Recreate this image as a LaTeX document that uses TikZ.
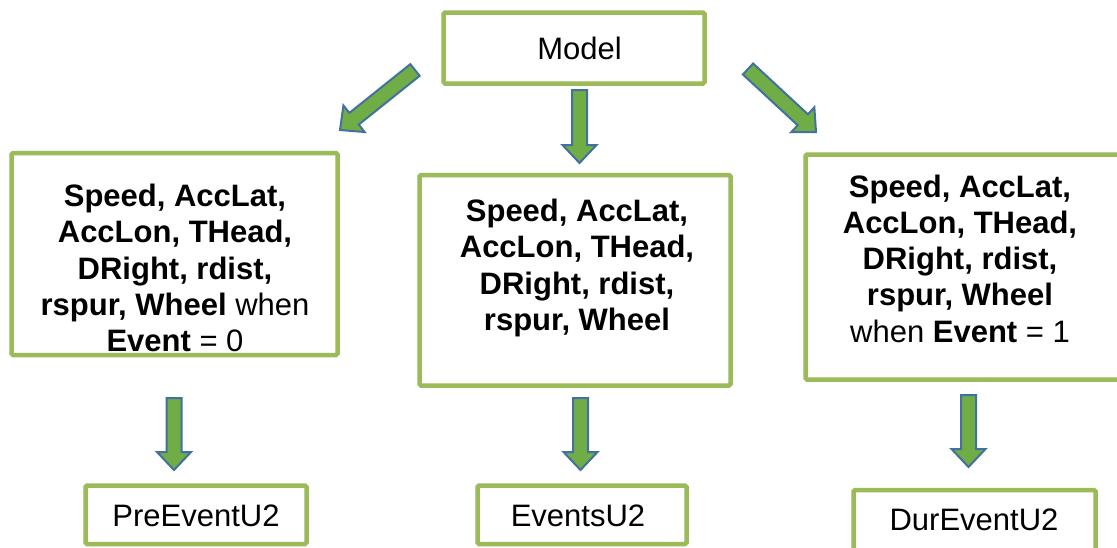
\documentclass[tikz,border=0pt]{standalone}
\usepackage{fontspec}
\setmainfont{Liberation Sans}
\usetikzlibrary{calc}
\definecolor{boxgreen}{RGB}{155,187,89}
\definecolor{arrfill}{RGB}{112,173,71}
\definecolor{arrline}{RGB}{65,113,156}
\tikzset{
  box/.style={draw=boxgreen, line width=4.5pt, rounded corners=1.5pt, fill=white, inner sep=0pt},
  txt/.style={align=center, inner sep=0pt, font=\fontsize{31}{36.2}\selectfont},
  barrow/.style={fill=arrfill, draw=arrline, line width=2pt, line join=miter},
}
\newcommand\blockarrow[3]{%
  \coordinate (#3) at ($(#2)!18pt!(#1)$);
  \draw[barrow] ($(#1)!7.5pt!90:(#2)$) -- ($(#3)!7.5pt!90:(#2)$) -- ($(#3)!17pt!90:(#2)$)
    -- (#2) -- ($(#3)!17pt!-90:(#2)$) -- ($(#3)!7.5pt!-90:(#2)$) -- ($(#1)!7.5pt!-90:(#2)$) -- cycle;
}
\begin{document}
\begin{tikzpicture}[x=1pt,y=-1pt]
\clip (0,0) rectangle (1117,547);
\fill[white] (0,0) rectangle (1117,547);

% boxes
\node[box, minimum width=261pt, minimum height=71pt] (model) at (574,48) {};
\node[box, minimum width=326pt, minimum height=202pt] (left) at (174.5,254) {};
\node[box, minimum width=311pt, minimum height=210.5pt] (mid) at (575,280.25) {};
\node[box, minimum width=319.5pt, minimum height=225pt] (right) at (965.25,267) {};
\node[box, minimum width=221pt, minimum height=58.5pt] (pre) at (196,514.75) {};
\node[box, minimum width=209pt, minimum height=58.5pt] (events) at (582,514.75) {};
\node[box, minimum width=242pt, minimum height=65pt] (dur) at (974.5,522.5) {};

% texts
\node[txt] (tmodel) at (579.5,48) {Model};
\node[txt] (tleft) at (175,268) {\textbf{Speed, AccLat,}\\ \textbf{AccLon, THead,}\\ \textbf{DRight, rdist,}\\ \textbf{rspur, Wheel} when\\ \textbf{Event} = 0};
\node[txt] (tmid) at (577,268) {\textbf{Speed, AccLat,}\\ \textbf{AccLon, THead,}\\ \textbf{DRight, rdist,}\\ \textbf{rspur, Wheel}};
\node[txt] (tright) at (960,258.7) {\textbf{Speed, AccLat,}\\ \textbf{AccLon, THead,}\\ \textbf{DRight, rdist,}\\ \textbf{rspur, Wheel}\\ when \textbf{Event} = 1};
\node[txt] (tpre) at (196,516) {PreEventU2};
\node[txt] (tevents) at (578,516) {EventsU2};
\node[txt] (tdur) at (974,520) {DurEventU2};

% arrow end points
\coordinate (a1t) at (415,70);   \coordinate (a1h) at (340,130);
\coordinate (a2t) at (579.5,90); \coordinate (a2h) at (579.5,163);
\coordinate (a3t) at (748,69);   \coordinate (a3h) at (816,132);
\coordinate (a4t) at (174,398);  \coordinate (a4h) at (174,470);
\coordinate (a5t) at (580.5,398);\coordinate (a5h) at (580.5,470);
\coordinate (a6t) at (968.5,395);\coordinate (a6h) at (968.5,467);

\blockarrow{a1t}{a1h}{a1n}
\blockarrow{a2t}{a2h}{a2n}
\blockarrow{a3t}{a3h}{a3n}
\blockarrow{a4t}{a4h}{a4n}
\blockarrow{a5t}{a5h}{a5n}
\blockarrow{a6t}{a6h}{a6n}
\end{tikzpicture}
\end{document}
